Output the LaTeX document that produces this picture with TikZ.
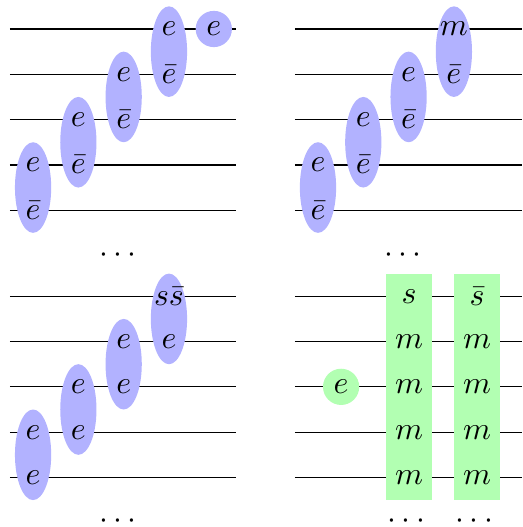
\documentclass[tikz,border=0pt]{standalone}
\usepackage{amsmath,amssymb}
\usepackage{tikz}
\usetikzlibrary{shapes.geometric,positioning}

\begin{document}
\begin{tikzpicture}[x=5mm, y=5mm,
  pair/.style={ellipse, fill=blue!30, minimum width=4mm, minimum height=10mm, inner sep=0pt},
  lone/.style={circle, fill=#1, minimum size=4mm, inner sep=0pt},
  column/.style={fill=green!30, minimum width=5mm, minimum height=25mm, inner sep=0pt}]
\useasboundingbox (0,0) rectangle (11.545,-11.634);
% wires
\foreach \y in {0.64,1.64,2.64,3.64,4.64,6.54,7.54,8.54,9.54,10.54} {
  \draw (0.22,-\y) -- (5.22,-\y);
  \draw (6.51,-\y) -- (11.52,-\y);
}
% top left
\foreach \k in {0,...,3} {
  \node[pair] (TL\k) at (0.73+\k,-4.14+\k) {};
  \node (TL\k u) at ([yshift=2.5mm]TL\k.center) {$e$};
  \node (TL\k d) at ([yshift=-2.5mm]TL\k.center) {$\bar e$};
}
\node[lone=blue!30] (TL4) at (4.72,-0.64) {$e$};
\node (TLdots) at (2.66,-5.63) {$\cdots$};
% top right
\foreach \k/\u in {0/e,1/e,2/e,3/m} {
  \node[pair] (TR\k) at (7.02+\k,-4.14+\k) {};
  \node (TR\k u) at ([yshift=2.5mm]TR\k.center) {$\u$};
  \node (TR\k d) at ([yshift=-2.5mm]TR\k.center) {$\bar e$};
}
\node (TRdots) at (8.95,-5.63) {$\cdots$};
% bottom left
\foreach \k/\u in {0/e,1/e,2/e,3/s\bar s} {
  \node[pair] (BL\k) at (0.73+\k,-10.04+\k) {};
  \node (BL\k u) at ([yshift=2.5mm]BL\k.center) {$\u$};
  \node (BL\k d) at ([yshift=-2.5mm]BL\k.center) {$e$};
}
\node (BLdots) at (2.66,-11.52) {$\cdots$};
% bottom right
\node[lone=green!30] (BR) at (7.53,-8.54) {$e$};
\node[column] (C1) at (9.03,-8.54) {};
\node[column] (C2) at (10.53,-8.54) {};
\foreach \j/\a/\b in {0/s/\bar s,1/m/m,2/m/m,3/m/m,4/m/m} {
  \node (C1-\j) at (9.03,-6.54-\j) {$\a$};
  \node (C2-\j) at (10.53,-6.54-\j) {$\b$};
}
\node (C1dots) at (9.03,-11.52) {$\cdots$};
\node (C2dots) at (10.53,-11.52) {$\cdots$};
\end{tikzpicture}
\end{document}
